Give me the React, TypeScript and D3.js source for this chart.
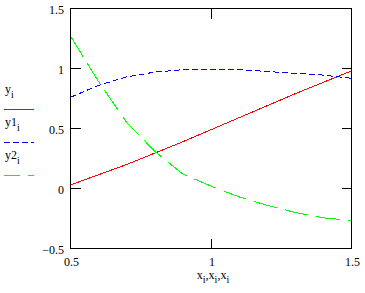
import React from "react";
import * as d3 from "d3";

const xs = [0.5, 0.6, 0.7, 0.8, 0.9, 1.0, 1.1, 1.2, 1.3, 1.4, 1.5];
const yVals = [0.03, 0.115, 0.2, 0.295, 0.39, 0.49, 0.59, 0.69, 0.79, 0.885, 0.98];
const y1Vals = [0.76, 0.86, 0.93, 0.97, 0.99, 0.995, 0.99, 0.975, 0.96, 0.945, 0.918];
const y2Vals = [1.27, 0.89, 0.55, 0.31, 0.12, 0.02, -0.07, -0.14, -0.2, -0.245, -0.265];
const xTicks = [1];
const yTicks = [0, 0.5, 1];
const xTickLabels = [0.5, 1, 1.5];
const yTickLabels = [-0.5, 0, 0.5, 1, 1.5];

const FONT = "'Liberation Serif', 'Times New Roman', serif";

export default function App() {
  const x = d3.scaleLinear().domain([0.5, 1.5]).range([70.5, 351.5]);
  const y = d3.scaleLinear().domain([-0.5, 1.5]).range([248.5, 8.5]);
  const line = (vals: number[]) =>
    d3.line<number>().x((_, i) => x(xs[i])).y((v) => y(v))(vals) || "";
  const fmt = (v: number) => (v < 0 ? "\u2212" + String(-v) : String(v));
  const series = [
    { vals: yVals, color: "#ff0000", dash: "none", legendDash: "none", label: "y" },
    { vals: y1Vals, color: "#0000ff", dash: "6 3", legendDash: "6 3", label: "y1" },
    { vals: y2Vals, color: "#00ff00", dash: "24 8", legendDash: "16 8", label: "y2" },
  ];
  return (
    <svg
      width={365}
      height={293}
      style={{ position: "absolute", left: 0, top: 0, background: "#fff" }}
      fontFamily={FONT}
      fontSize={12}
    >
      <rect x={0} y={0} width={365} height={293} fill="#fff" />
      {series.map((s) => (
        <path
          key={s.label}
          d={line(s.vals)}
          fill="none"
          stroke={s.color}
          strokeWidth={1}
          strokeDasharray={s.dash}
          shapeRendering="crispEdges"
        />
      ))}
      <rect x={70.5} y={8.5} width={281} height={240} fill="none" stroke="#000" strokeWidth={1} shapeRendering="crispEdges" />
      {yTicks.map((t) => (
        <g key={"yt" + t} stroke="#000" shapeRendering="crispEdges">
          <line x1={70.5} x2={80.5} y1={y(t)} y2={y(t)} />
          <line x1={341.5} x2={351.5} y1={y(t)} y2={y(t)} />
        </g>
      ))}
      {xTicks.map((t) => (
        <g key={"xt" + t} stroke="#000" shapeRendering="crispEdges">
          <line x1={x(t)} x2={x(t)} y1={8.5} y2={18.5} />
          <line x1={x(t)} x2={x(t)} y1={238.5} y2={248.5} />
        </g>
      ))}
      {yTickLabels.map((t) => (
        <text key={"yl" + t} x={64} y={y(t) + 5} textAnchor="end" fill="#000">
          {fmt(t)}
        </text>
      ))}
      {xTickLabels.map((t) => (
        <text key={"xl" + t} x={x(t) + 1} y={266} textAnchor="middle" fill="#000">
          {fmt(t)}
        </text>
      ))}
      <text x={213} y={279} textAnchor="middle" fill="#000">
        x<tspan dy={4} fontSize={10}>i</tspan>
        <tspan dy={-4}>,x</tspan><tspan dy={4} fontSize={10}>i</tspan>
        <tspan dy={-4}>,x</tspan><tspan dy={4} fontSize={10}>i</tspan>
      </text>
      {series.map((s, i) => (
        <g key={"lg" + s.label}>
          <text x={5} y={93 + i * 33} fill="#000">
            {s.label}
            <tspan dy={5} fontSize={10}>i</tspan>
          </text>
          <line
            x1={4}
            x2={34}
            y1={109.5 + i * 33}
            y2={109.5 + i * 33}
            stroke={s.color}
            strokeDasharray={s.legendDash}
            shapeRendering="crispEdges"
          />
        </g>
      ))}
    </svg>
  );
}
